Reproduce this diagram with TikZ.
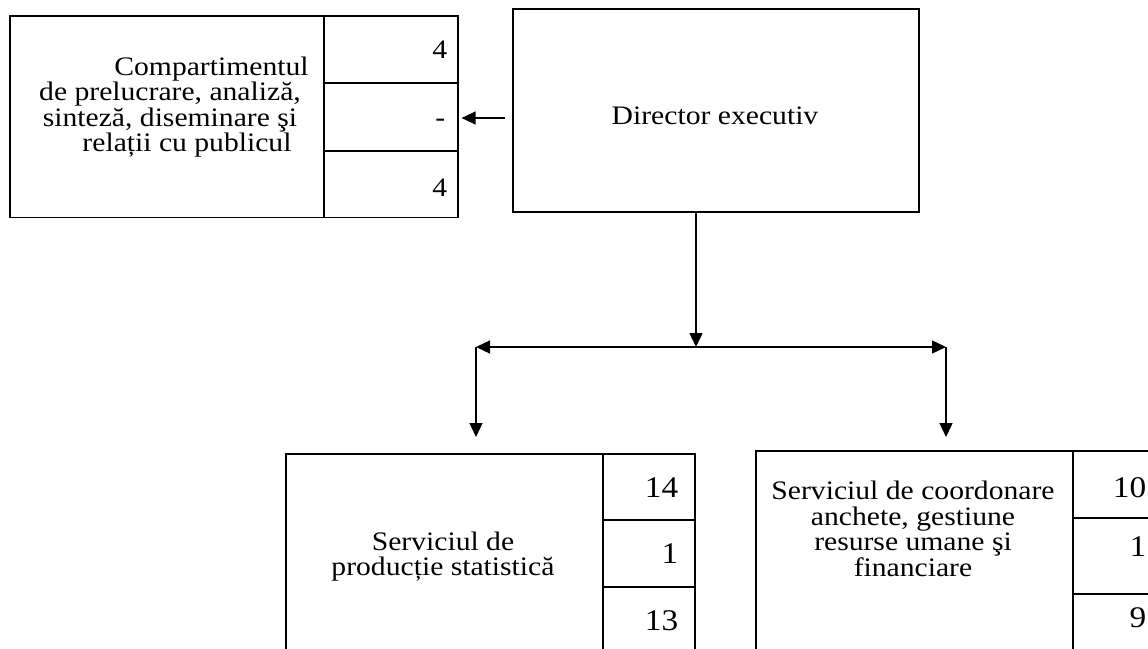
\documentclass[tikz,border=0pt]{standalone}
\usepackage{fontspec}
\setmainfont{Liberation Serif}[FakeStretch=1.11]
\usetikzlibrary{arrows.meta}
\newcommand\diagfont{\fontsize{26.7}{25.5}\selectfont\lineskiplimit=-30pt\relax}
\newcommand\bignumfont{\fontsize{30}{30}\selectfont}
\begin{document}
\begin{tikzpicture}[x=1pt,y=-1pt, line width=1.6pt,
  >={Triangle[length=14pt,width=13pt]},
  box/.style={draw, rectangle, inner sep=0pt, anchor=north west},
  txtfont/.style={font=\diagfont},
  lbl/.style={txtfont, inner sep=0pt, align=center},
  num/.style={txtfont, inner sep=0pt, anchor=base east},
  bignum/.style={font=\bignumfont, inner sep=0pt, anchor=base east},
  conn/.style={line width=1.4pt, ->},
  dconn/.style={line width=1.4pt, <->}]
\path[use as bounding box, clip] (0,0) rectangle (1148,648);
% left box
\node[box, minimum width=314pt, minimum height=201.7pt] (lbox) at (9,15) {};
\node[box, minimum width=134pt, minimum height=67.3pt] (lc1) at (323,15) {};
\node[box, minimum width=134pt, minimum height=67.7pt] (lc2) at (323,82.3) {};
\node[box, minimum width=134pt, minimum height=66.7pt] (lc3) at (323,150) {};
\node[lbl] (ltxt) at (170,107) {\hspace*{83pt}Compartimentul\\de prelucrare, analiză,\\sinteză, diseminare şi\\\hspace*{34pt}relații cu publicul};
\node[num] (ln1) at (448,58) {4};
\node[num] (ln2) at (446,126) {-};
\node[num] (ln3) at (448,196) {4};
% director
\node[box, minimum width=406pt, minimum height=203pt] (dir) at (512,8) {};
\node[txtfont, inner sep=0pt, anchor=base] (dirtxt) at (715,124.3) {Director executiv};
% bottom left
\node[box, minimum width=317pt, minimum height=210pt] (bbox) at (285,453) {};
\node[box, minimum width=92pt, minimum height=66pt] (bc1) at (602,453) {};
\node[box, minimum width=92pt, minimum height=67pt] (bc2) at (602,519) {};
\node[box, minimum width=92pt, minimum height=77pt] (bc3) at (602,586) {};
\node[lbl] (btxt) at (443,556.5) {Serviciul de\\producție statistică};
\node[bignum] (bn1) at (679,497) {14};
\node[bignum] (bn2) at (679,563) {1};
\node[bignum] (bn3) at (679,630) {13};
% bottom right
\node[box, minimum width=317pt, minimum height=213pt] (rbox) at (755,450) {};
\node[box, minimum width=100pt, minimum height=67pt] (rc1) at (1072,450) {};
\node[box, minimum width=100pt, minimum height=76pt] (rc2) at (1072,517) {};
\node[box, minimum width=100pt, minimum height=70pt] (rc3) at (1072,593) {};
\node[lbl] (rtxt) at (913,529) {Serviciul de coordonare\\anchete, gestiune\\resurse umane şi\\financiare};
\node[bignum] (rn1) at (1147,497) {10};
\node[bignum] (rn2) at (1147,556) {1};
\node[bignum] (rn3) at (1147,627) {9};
% connectors
\coordinate (a1) at (505,118);
\coordinate (jn) at (696,347);
\coordinate (jl) at (476,347);
\coordinate (jr) at (946,347);
\draw[conn, shorten <=7pt, shorten >=3pt] (dir.west |- a1) -- (lc2.east |- a1);
\draw[conn] (dir.south -| jn) -- (jn);
\draw[dconn] (jl) -- (jr);
\draw[conn, shorten >=16pt] (jl) -- (bbox.north -| jl);
\draw[conn, shorten >=13pt] (jr) -- (rbox.north -| jr);
\end{tikzpicture}
\end{document}
